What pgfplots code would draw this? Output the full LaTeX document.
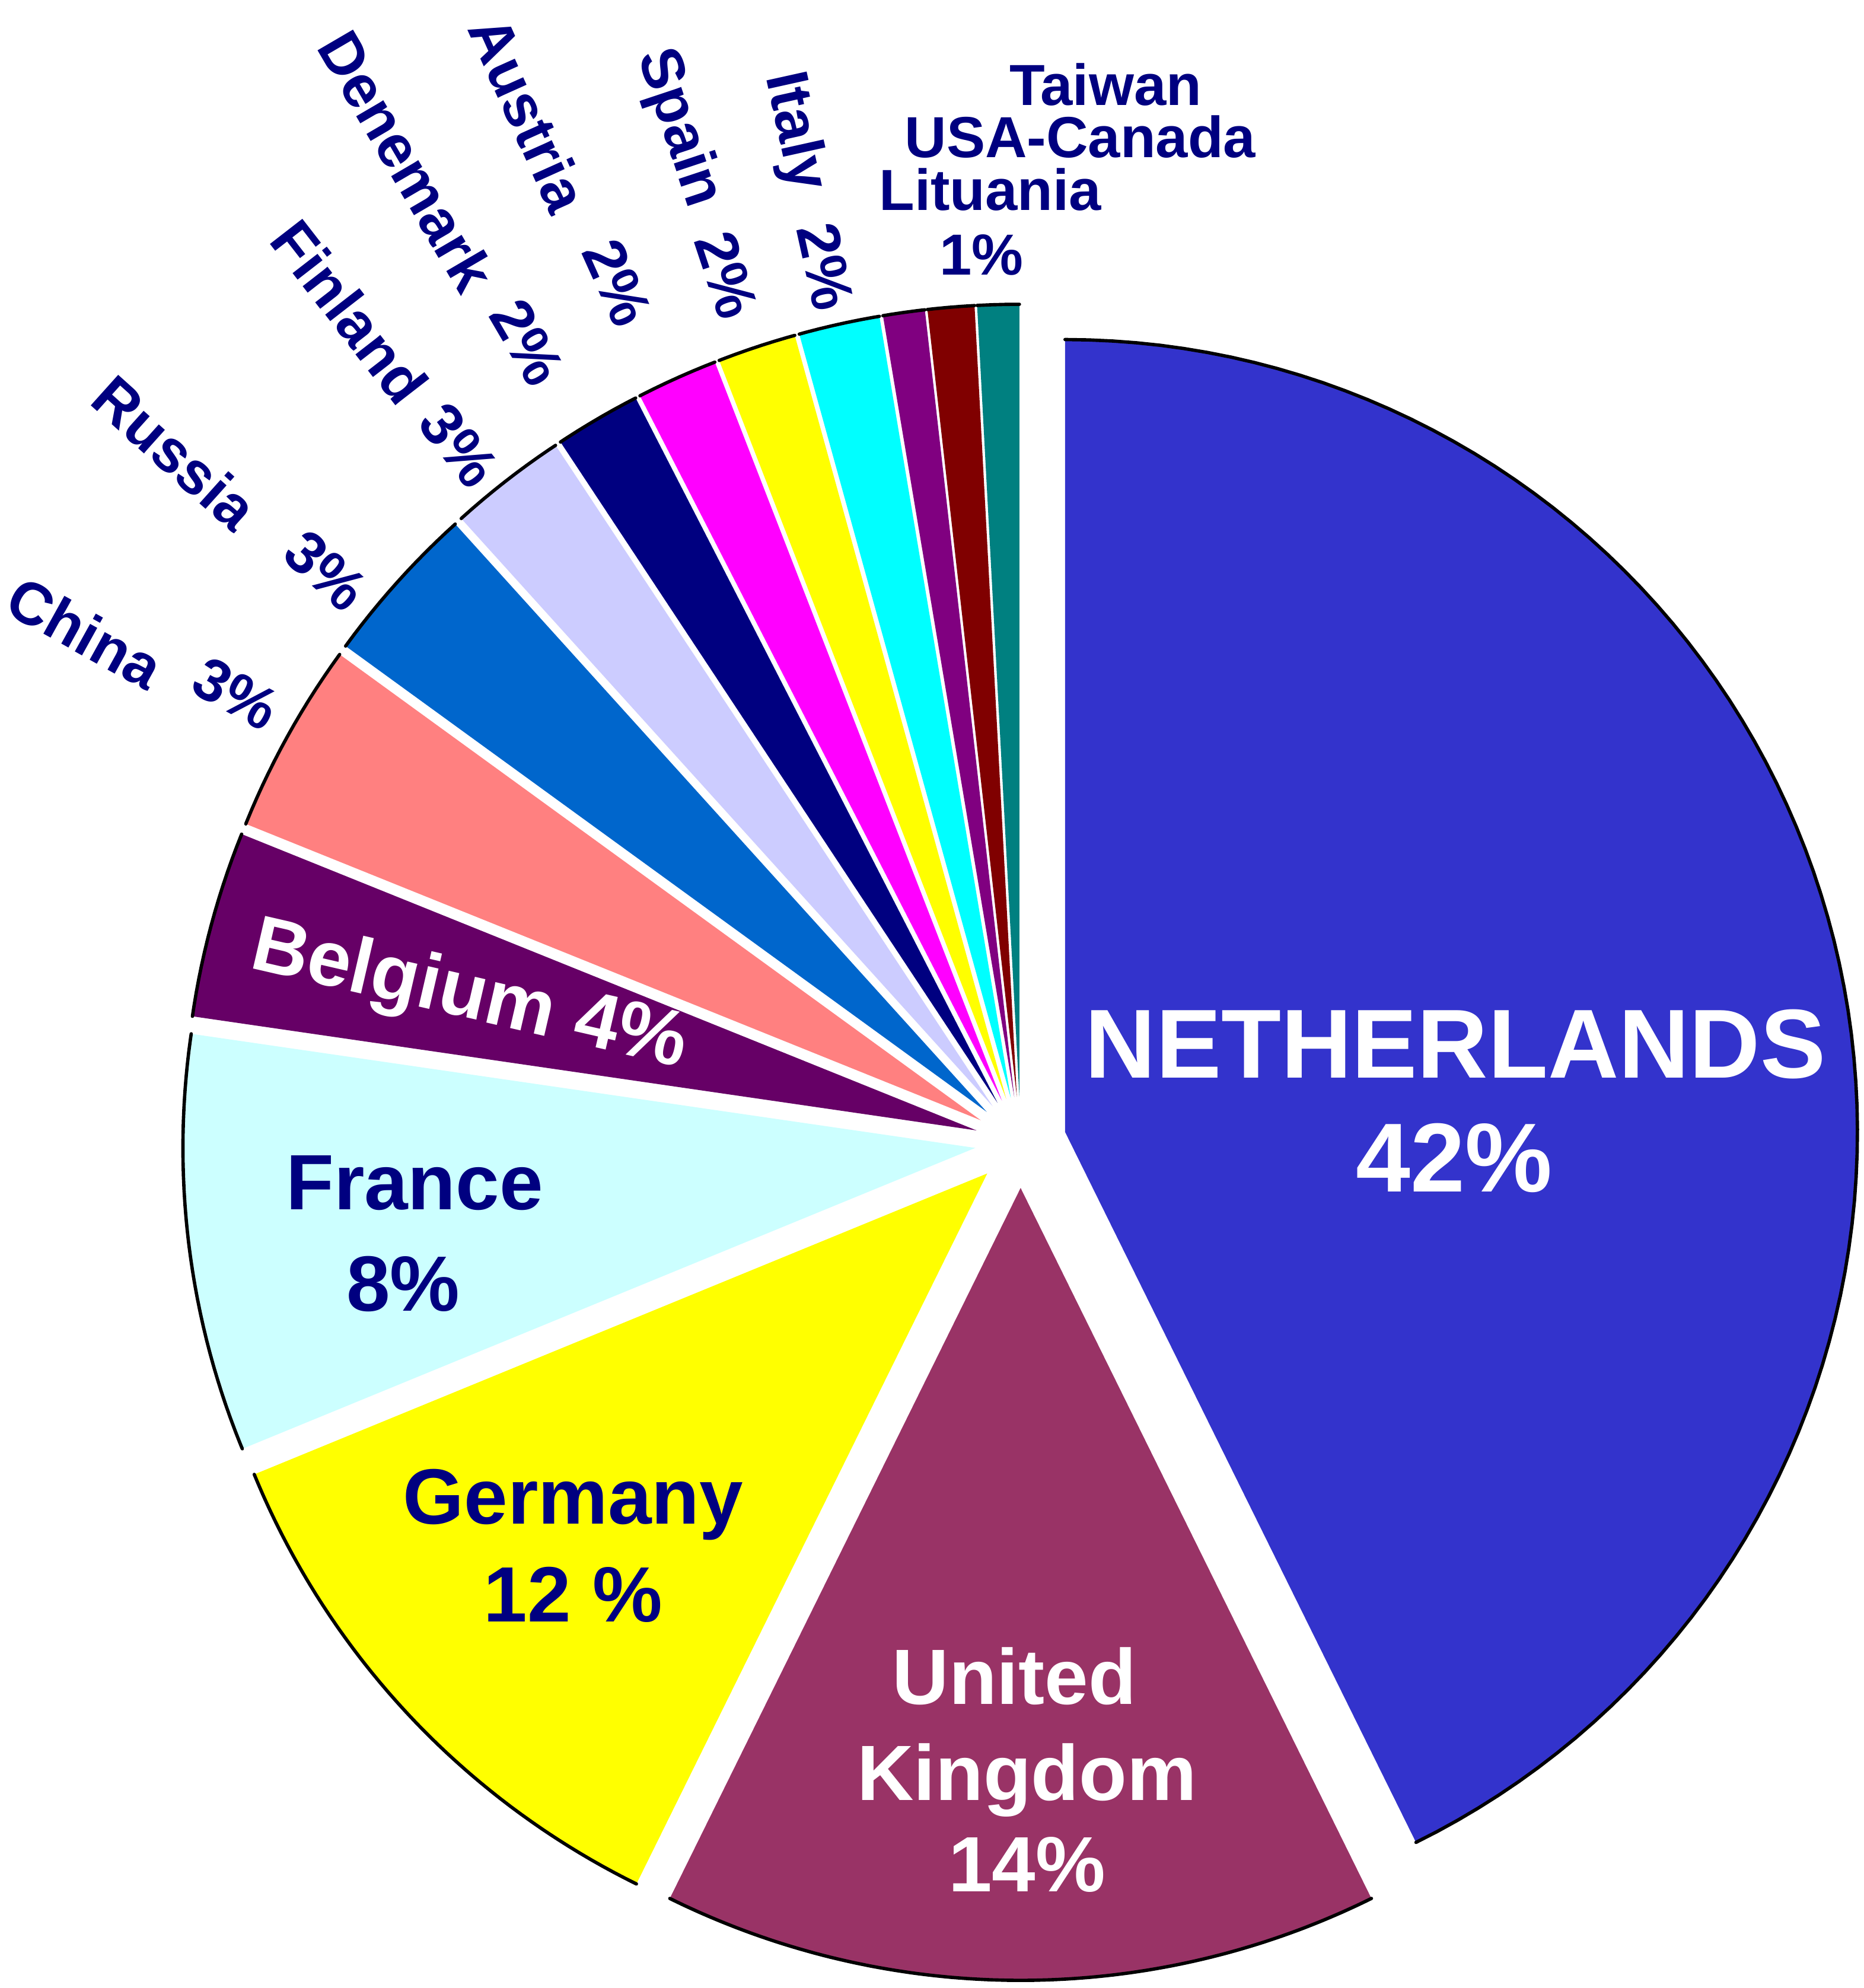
\documentclass[border=0pt]{standalone}
\usepackage{pgfplots}
\pgfplotsset{compat=1.18}
\usepackage{pgfplotstable}
\usepackage{fontspec}
\setmainfont{Liberation Sans}

\definecolor{c0}{HTML}{3333CC}
\definecolor{c1}{HTML}{993366}
\definecolor{c2}{HTML}{FFFF00}
\definecolor{c3}{HTML}{CCFFFF}
\definecolor{c4}{HTML}{660066}
\definecolor{c5}{HTML}{FF8080}
\definecolor{c6}{HTML}{0066CC}
\definecolor{c7}{HTML}{CCCCFF}
\definecolor{c8}{HTML}{000080}
\definecolor{c9}{HTML}{FF00FF}
\definecolor{c10}{HTML}{FFFF00}
\definecolor{c11}{HTML}{00FFFF}
\definecolor{c12}{HTML}{800080}
\definecolor{c13}{HTML}{800000}
\definecolor{c14}{HTML}{008080}
\definecolor{navy}{HTML}{000080}

% share of each country (percent), clockwise from 12 o'clock
\pgfplotstableread{
name pct
Netherlands 42.7
UnitedKingdom 14.6
Germany 11.5
France 8.5
Belgium 3.8
China 3.9
Russia 3.3
Finland 2.4
Denemark 1.75
Austria 1.65
Spain 1.6
Italy 1.65
Lituania 0.85
USA-Canada 0.95
Taiwan 0.85
}\piedata

\begin{document}
\begin{tikzpicture}
\gdef\cum{0}
\foreach \i in {0,...,14}{%
  \pgfplotstablegetelem{\i}{pct}\of\piedata
  \let\v\pgfplotsretval
  \pgfmathsetmacro\sa{\cum*3.6}%
  \pgfmathsetmacro\nc{\cum+\v}%
  \pgfmathsetmacro\ea{\nc*3.6}%
  \pgfmathsetmacro\ma{(\sa+\ea)/2}%
  \pgfmathsetmacro\cx{805+36*sin(\ma)}%
  \pgfmathsetmacro\cy{667+36*cos(\ma)}%
  \expandafter\xdef\csname pieSA\i\endcsname{\sa}%
  \expandafter\xdef\csname pieEA\i\endcsname{\ea}%
  \expandafter\xdef\csname pieCX\i\endcsname{\cx}%
  \expandafter\xdef\csname pieCY\i\endcsname{\cy}%
  \xdef\cum{\nc}%
}
\begin{axis}[width=14.7cm,height=15.68cm,scale only axis,
  xmin=0,xmax=1470,ymin=0,ymax=1568,hide axis,clip=false,no markers]
\pgfplotsinvokeforeach{0,...,14}{%
  \addplot[fill=c#1, draw=none, domain=\csname pieSA#1\endcsname:\csname pieEA#1\endcsname,
    samples=90, variable=\t]
    ({\csname pieCX#1\endcsname+625*sin(\t)},{\csname pieCY#1\endcsname+625*cos(\t)})
    -- (axis cs:\csname pieCX#1\endcsname,\csname pieCY#1\endcsname) -- cycle;
  \addplot[black, line width=0.75pt, line cap=round,
    domain=\csname pieSA#1\endcsname:\csname pieEA#1\endcsname, samples=90, variable=\t]
    ({\csname pieCX#1\endcsname+625*sin(\t)},{\csname pieCY#1\endcsname+625*cos(\t)});
}
% inner labels
\node[font=\bfseries\fontsize{22}{24}\selectfont, text=white, anchor=base] at (axis cs:1148,718) {NETHERLANDS};
\node[font=\bfseries\fontsize{22}{24}\selectfont, text=white, anchor=base] at (axis cs:1147,628) {42\%};
\node[font=\bfseries\fontsize{17.6}{20}\selectfont, text=white, anchor=base] at (axis cs:800,224) {United};
\node[font=\bfseries\fontsize{17.6}{20}\selectfont, text=white, anchor=base] at (axis cs:810,148) {Kingdom};
\node[font=\bfseries\fontsize{17.6}{20}\selectfont, text=white, anchor=base] at (axis cs:810,76) {14\%};
\node[font=\bfseries\fontsize{17.6}{20}\selectfont, text=navy, anchor=base] at (axis cs:452,366) {Germany};
\node[font=\bfseries\fontsize{17.6}{20}\selectfont, text=navy, anchor=base] at (axis cs:452,289) {12 \%};
\node[font=\bfseries\fontsize{17.6}{20}\selectfont, text=navy, anchor=base] at (axis cs:327,614) {France};
\node[font=\bfseries\fontsize{17.6}{20}\selectfont, text=navy, anchor=base] at (axis cs:318,534) {8\%};
\node[font=\bfseries\fontsize{17.6}{20}\selectfont, text=white, rotate=-13] at (axis cs:370,781) {Belgium 4\%};
% outer labels
\tikzset{small/.style={font=\bfseries\fontsize{13}{15}\selectfont, text=navy},
  rsmall/.style={font=\bfseries\fontsize{13.4}{15}\selectfont, text=navy, inner sep=1pt}}
\node[rsmall, rotate=-29.0] at (axis cs:67,1069) {China};
\node[rsmall, rotate=-29.0] at (axis cs:186,1021) {3\%};
\node[rsmall, rotate=-41.9] at (axis cs:138,1211) {Russia};
\node[rsmall, rotate=-41.9] at (axis cs:257,1118) {3\%};
\node[rsmall, rotate=-52.2] at (axis cs:276,1322) {Finland};
\node[rsmall, rotate=-52.2] at (axis cs:362,1217) {3\%};
\node[rsmall, rotate=-59.7] at (axis cs:321,1441) {Denemark};
\node[rsmall, rotate=-59.7] at (axis cs:416,1298) {2\%};
\node[rsmall, rotate=-65.8] at (axis cs:417,1478) {Austria};
\node[rsmall, rotate=-65.8] at (axis cs:487,1345) {2\%};
\node[rsmall, rotate=-71.6] at (axis cs:535,1467) {Spain};
\node[rsmall, rotate=-71.6] at (axis cs:573,1351) {2\%};
\node[rsmall, rotate=-77.5] at (axis cs:626,1464) {Italy};
\node[rsmall, rotate=-77.5] at (axis cs:651,1358) {2\%};
\node[small, anchor=base] at (axis cs:872,1485) {Taiwan};
\node[small, anchor=base] at (axis cs:852,1444) {USA-Canada};
\node[small, anchor=base] at (axis cs:781,1402) {Lituania};
\node[small, anchor=base] at (axis cs:774,1351) {1\%};
\end{axis}
\pgfresetboundingbox
\path (current axis.south west) rectangle (current axis.north east);
\end{tikzpicture}
\end{document}
